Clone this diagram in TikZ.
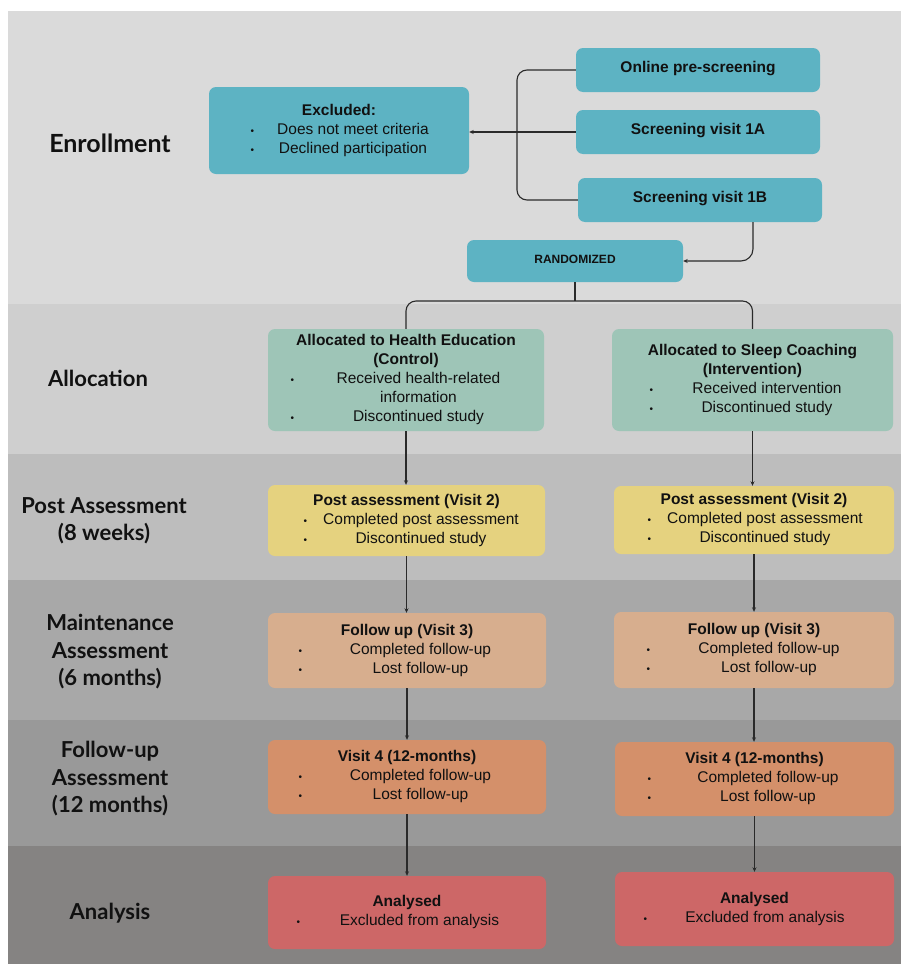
\documentclass[tikz,border=0pt]{standalone}
\usepackage{fontspec}
\setmainfont{Liberation Sans}
\newfontfamily\labfont{Lato}
\usepackage{array}
\usetikzlibrary{arrows.meta}
\setlength{\tabcolsep}{0pt}
\newcolumntype{B}[1]{>{\raggedleft\arraybackslash}p{#1}}
\newcolumntype{C}[1]{>{\centering\arraybackslash}p{#1}}
\newcommand{\blt}{{\fontsize{10}{10}\selectfont\textbullet}}
\newcommand{\itm}[1]{\blt & #1\\}
\newcommand{\ttl}[1]{\multicolumn{2}{@{}c@{}}{\textbf{#1}}\\}
\newcommand{\blk}[3]{\begin{tabular}{@{}B{#1pt}C{#2pt}@{}}#3\end{tabular}}
\definecolor{tealc}{HTML}{5DB3C3}
\definecolor{allocc}{HTML}{9EC5B7}
\definecolor{postc}{HTML}{E5D27F}
\definecolor{fuc}{HTML}{D7AE8E}
\definecolor{vfc}{HTML}{D4906A}
\definecolor{anc}{HTML}{CD6767}
\definecolor{bandA}{HTML}{DADADA}
\definecolor{bandB}{HTML}{CFCFCF}
\definecolor{bandC}{HTML}{BDBDBD}
\definecolor{bandD}{HTML}{A8A8A8}
\definecolor{bandE}{HTML}{999999}
\definecolor{bandF}{HTML}{858382}
\definecolor{linec}{HTML}{2A2A2A}
\definecolor{txtc}{HTML}{111111}
\begin{document}
\begin{tikzpicture}[x=1pt,y=-1pt,
  line/.style={draw=linec, line width=1.1pt},
  arr/.style={line, -{Stealth[length=4.5pt,width=4pt]}},
  box/.style={rounded corners=7pt, inner sep=0pt, align=center, text=txtc,
    font=\fontsize{15.5}{19}\selectfont},
  tealbox/.style={box, fill=tealc},
  allocbox/.style={box, fill=allocc},
  postbox/.style={box, fill=postc},
  fubox/.style={box, fill=fuc},
  vfbox/.style={box, fill=vfc},
  anbox/.style={box, fill=anc},
  single/.style={text depth=6pt, text height=11pt, font=\fontsize{15.5}{19}\selectfont\bfseries},
  lab/.style={align=center, text=txtc, inner sep=0pt,
    font=\labfont\bfseries\fontsize{22}{27.5}\selectfont}
]
\fill[white] (0,0) rectangle (901,964);
\useasboundingbox (0,0) rectangle (901,964);
% bands
\fill[bandA] (8,11) rectangle (901,304);
\fill[bandB] (8,304) rectangle (901,454);
\fill[bandC] (8,454) rectangle (901,580);
\fill[bandD] (8,580) rectangle (901,720);
\fill[bandE] (8,720) rectangle (901,846);
\fill[bandF] (8,846) rectangle (901,964);

% stage labels
\node[lab, font=\labfont\bfseries\fontsize{25}{30}\selectfont] (lEnr) at (110,143) {Enrollment};
\node[lab] (lAll) at (98,378) {Allocation};
\node[lab] (lPost) at (104,521) {Post Assessment\\(8 weeks)};
\node[lab] (lMain) at (110,652) {Maintenance\\Assessment\\(6 months)};
\node[lab] (lFol) at (110,779) {Follow-up\\Assessment\\(12 months)};
\node[lab] (lAna) at (110,913) {Analysis};

% enrollment boxes
\node[tealbox, minimum width=260pt, minimum height=87pt] (excl) at (339,130.5)
  {\blk{28}{198}{\ttl{Excluded:}\itm{Does not meet criteria}\itm{Declined participation}}};
\node[tealbox, single, minimum width=244pt, minimum height=44pt] (online) at (698,70) {Online pre-screening};
\node[tealbox, single, minimum width=244pt, minimum height=44pt] (s1a) at (698,132) {Screening visit 1A};
\node[tealbox, single, minimum width=244pt, minimum height=44pt] (s1b) at (700,200) {Screening visit 1B};
\node[tealbox, minimum width=216pt, minimum height=42pt, text depth=5pt, text height=9pt, font=\fontsize{12}{14}\selectfont\bfseries] (rand) at (575,261) {RANDOMIZED};

% allocation
\node[allocbox, minimum width=276pt, minimum height=102pt] (allocL) at (406,380)
  {\blk{25}{249}{\ttl{Allocated to Health Education}\ttl{(Control)}\itm{Received health-related}& information\\\itm{Discontinued study}}};
\node[allocbox, minimum width=281pt, minimum height=102pt] (allocR) at (752.5,380)
  {\blk{29}{228}{\ttl{Allocated to Sleep Coaching}\ttl{(Intervention)}\itm{Received intervention}\itm{Discontinued study}}};

% post assessment
\node[postbox, minimum width=277pt, minimum height=71pt] (postL) at (406.5,520.5)
  {\blk{29}{228}{\ttl{Post assessment (Visit 2)}\itm{Completed post assessment}\itm{Discontinued study}}};
\node[postbox, minimum width=280pt, minimum height=68pt] (postR) at (754,520)
  {\blk{22}{228}{\ttl{Post assessment (Visit 2)}\itm{Completed post assessment}\itm{Discontinued study}}};

% follow up visit 3
\node[fubox, minimum width=278pt, minimum height=75pt] (fuL) at (407,650.5)
  {\blk{27}{237}{\ttl{Follow up (Visit 3)}\itm{Completed follow-up}\itm{Lost follow-up}}};
\node[fubox, minimum width=280pt, minimum height=76pt] (fuR) at (754,650)
  {\blk{30}{238}{\ttl{Follow up (Visit 3)}\itm{Completed follow-up}\itm{Lost follow-up}}};

% visit 4
\node[vfbox, minimum width=278pt, minimum height=74pt] (vfL) at (407,777)
  {\blk{27}{237}{\ttl{Visit 4 (12-months)}\itm{Completed follow-up}\itm{Lost follow-up}}};
\node[vfbox, minimum width=279pt, minimum height=74pt] (vfR) at (754.5,779)
  {\blk{27}{234}{\ttl{Visit 4 (12-months)}\itm{Completed follow-up}\itm{Lost follow-up}}};

% analysed
\node[anbox, minimum width=278pt, minimum height=73pt] (anL) at (407,912.5)
  {\blk{25}{239}{\ttl{Analysed}\itm{Excluded from analysis}}};
\node[anbox, minimum width=279pt, minimum height=74pt] (anR) at (754.5,909)
  {\blk{21}{236}{\ttl{Analysed}\itm{Excluded from analysis}}};

% connectors
\coordinate (brk) at (517,0);
\coordinate (s1bx) at (753,0);
\coordinate (split) at (575,301);
\draw[line, rounded corners=10pt] (online.west) -- (online.west -| brk) -- (s1b.west -| brk) -- (s1b.west);
\draw[arr] (s1a.west) -- (s1a.west -| excl.east);
\draw[arr, rounded corners=12pt] (s1b.south -| s1bx) |- (rand.east);
\draw[line] (rand.south) -- (rand.south |- split);
\draw[line, rounded corners=10pt] (allocL.north) |- (split) -| (allocR.north);
\draw[arr] (allocL.south) -- (allocL.south |- postL.north);
\draw[arr] (postL.south) -- (postL.south |- fuL.north);
\draw[arr] (fuL.south) -- (fuL.south |- vfL.north);
\draw[arr] (vfL.south) -- (vfL.south |- anL.north);
\draw[arr] (allocR.south) -- (allocR.south |- postR.north);
\draw[arr] (postR.south) -- (postR.south |- fuR.north);
\draw[arr] (fuR.south) -- (fuR.south |- vfR.north);
\draw[arr] (vfR.south) -- (vfR.south |- anR.north);
\end{tikzpicture}
\end{document}
